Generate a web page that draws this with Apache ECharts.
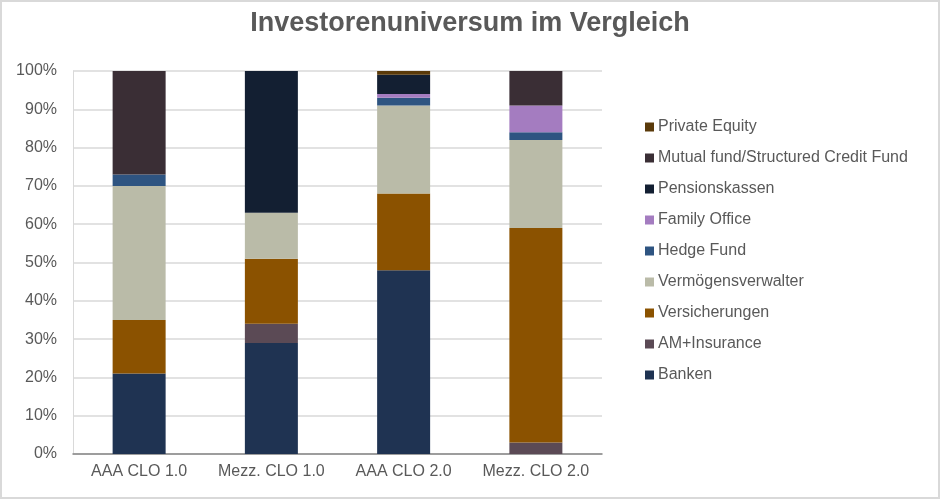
<!DOCTYPE html>
<html><head><meta charset="utf-8">
<script src="https://cdn.jsdelivr.net/npm/echarts@6/dist/echarts.min.js"></script>
<style>html,body{margin:0;padding:0;background:#fff}#c{width:940px;height:499px}</style>
</head><body><div id="c"></div>
<script>
const categories = ['AAA CLO 1.0', 'Mezz. CLO 1.0', 'AAA CLO 2.0', 'Mezz. CLO 2.0'];
const seriesNames = ['Banken', 'AM+Insurance', 'Versicherungen', 'Vermögensverwalter', 'Hedge Fund', 'Family Office', 'Pensionskassen', 'Mutual fund/Structured Credit Fund', 'Private Equity'];
const banken = [21, 29, 48, 0];
const amInsurance = [0, 5, 0, 3];
const versicherungen = [14, 17, 20, 56];
const vermoegensverwalter = [35, 12, 23, 23];
const hedgeFund = [3, 0, 2, 2];
const familyOffice = [0, 0, 1, 7];
const pensionskassen = [0, 37, 5, 0];
const mutualFund = [27, 0, 0, 9];
const privateEquity = [0, 0, 1, 0];
const yTicks = [0, 10, 20, 30, 40, 50, 60, 70, 80, 90, 100];
const colors = ['#1F3352', '#5B4A55', '#8B5200', '#BABBA8', '#2E5481', '#A47CC0', '#131F32', '#3A2E35', '#5A3A0A'];
const values = [banken, amInsurance, versicherungen, vermoegensverwalter, hedgeFund, familyOffice, pensionskassen, mutualFund, privateEquity];

const chart = echarts.init(document.getElementById('c'), null, {renderer: 'canvas'});
chart.setOption({
  animation: false,
  backgroundColor: '#fff',
  title: {
    text: 'Investorenuniversum im Vergleich',
    left: 'center', top: 5,
    textStyle: {fontFamily: '"Liberation Sans", Arial, sans-serif', fontSize: 27, fontWeight: 'bold', color: '#595959'}
  },
  graphic: [{
    type: 'rect', shape: {x: 1, y: 1, width: 938, height: 497},
    style: {fill: 'none', stroke: '#D9D9D9', lineWidth: 2}, silent: true
  }],
  legend: {
    orient: 'vertical', left: 640, top: 114,
    data: seriesNames.slice().reverse(),
    itemWidth: 9, itemHeight: 9, itemGap: 15,
    icon: 'rect',
    textStyle: {fontFamily: '"Liberation Sans", Arial, sans-serif', fontSize: 16, color: '#595959', lineHeight: 16, padding: [0, 0, 0, -1]}
  },
  grid: {left: 73, right: 338, top: 71, bottom: 45, containLabel: false},
  xAxis: {
    type: 'category', data: categories,
    axisLine: {lineStyle: {color: '#868686', width: 1.5}},
    axisTick: {show: false},
    axisLabel: {interval: 0, fontFamily: '"Liberation Sans", Arial, sans-serif', fontSize: 16, color: '#595959', margin: 10}
  },
  yAxis: {
    type: 'value', min: 0, max: 100, interval: 10,
    axisLine: {show: true, lineStyle: {color: '#D9D9D9'}},
    axisTick: {show: false},
    splitLine: {lineStyle: {color: '#D9D9D9', width: 1.5}},
    axisLabel: {fontFamily: '"Liberation Sans", Arial, sans-serif', fontSize: 16, color: '#595959', margin: 16,
      formatter: v => yTicks.includes(v) ? v + '%' : ''}
  },
  series: seriesNames.map((n, i) => ({
    name: n, type: 'bar', stack: 'total', data: values[i],
    barWidth: 53,
    itemStyle: {color: colors[i]},
    emphasis: {disabled: true}
  }))
});
</script></body></html>
